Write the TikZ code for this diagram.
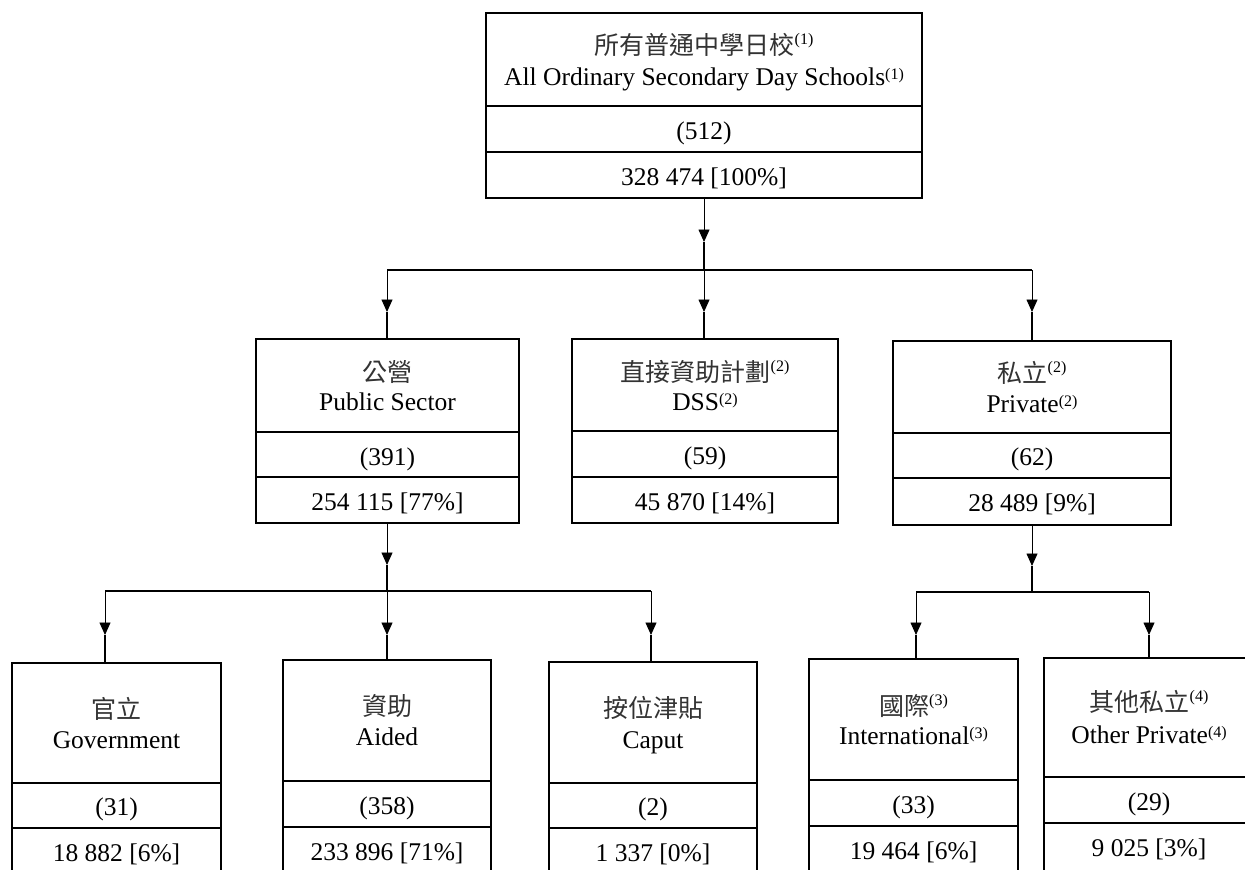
\documentclass[tikz,border=0pt]{standalone}
\usepackage{fontspec}
\setmainfont{Liberation Serif}
\newfontfamily\cjk{Noto Sans CJK TC}
\usetikzlibrary{arrows.meta}
\newcommand\supe[1]{\raisebox{5.5pt}{\fontsize{16}{16}\selectfont(#1)}}
\newcommand\supz[1]{\raisebox{10pt}{\rmfamily\color{black}\fontsize{16}{16}\selectfont(#1)}}
\newcommand\mkcell[5]{\node[cellbox, minimum width={#4pt-#2pt}, minimum height={#5pt-#3pt}] (#1) at ({(#2+#4)/2},{(#3+#5)/2}) {};}
\tikzset{
  cellbox/.style={draw, rectangle, inner sep=0pt, outer sep=0pt, line width=1.1pt},
  entxt/.style={font=\fontsize{25.5}{30}\selectfont, inner sep=0pt, anchor=base},
  zhtxt/.style={font=\cjk\fontsize{25}{30}\selectfont, text=black!80, inner sep=0pt, anchor=base},
  thinln/.style={line width=0.9pt},
  thickln/.style={line width=2.4pt},
  arr/.style={thinln, -{Triangle[length=12.5pt,width=11pt]}},
}
\begin{document}
\begin{tikzpicture}[x=1pt,y=-1pt]
\useasboundingbox (0,0) rectangle (1245,870);
\clip (0,0) rectangle (1245,870);
\fill[white] (0,0) rectangle (1245,870);

% ---------- top box
\mkcell{t1}{486}{13}{922}{106}
\mkcell{t2}{486}{106}{922}{152}
\mkcell{t3}{486}{152}{922}{198}
\node[zhtxt] (tzh) at (704,54) {所有普通中學日校\supz{1}};
\node[entxt] (ten) at (704,85) {All Ordinary Secondary Day Schools\supe{1}};
\node[entxt] (tnum) at (704,139) {(512)};
\node[entxt] (tstu) at (704,185) {328 474 [100\%]};

% ---------- public sector
\mkcell{p1}{256}{339}{519}{432}
\mkcell{p2}{256}{432}{519}{477}
\mkcell{p3}{256}{477}{519}{523}
\node[zhtxt] (pzh) at (387.5,381) {公營};
\node[entxt] (pen) at (387.5,410) {Public Sector};
\node[entxt] (pnum) at (387.5,465) {(391)};
\node[entxt] (pstu) at (387.5,510) {254 115 [77\%]};

% ---------- DSS
\mkcell{d1}{572}{339}{838}{431}
\mkcell{d2}{572}{431}{838}{477}
\mkcell{d3}{572}{477}{838}{523}
\node[zhtxt] (dzh) at (705,381) {直接資助計劃\supz{2}};
\node[entxt] (den) at (705,410) {DSS\supe{2}};
\node[entxt] (dnum) at (705,464) {(59)};
\node[entxt] (dstu) at (705,510) {45 870 [14\%]};

% ---------- private
\mkcell{r1}{893}{341}{1171}{433}
\mkcell{r2}{893}{433}{1171}{478}
\mkcell{r3}{893}{478}{1171}{525}
\node[zhtxt] (rzh) at (1032,382.5) {私立\supz{2}};
\node[entxt] (ren) at (1032,412) {Private\supe{2}};
\node[entxt] (rnum) at (1032,465.5) {(62)};
\node[entxt] (rstu) at (1032,511.5) {28 489 [9\%]};

% ---------- government
\mkcell{g1}{12}{663}{221}{783}
\mkcell{g2}{12}{783}{221}{828}
\mkcell{g3}{12}{828}{221}{890}
\node[zhtxt] (gzh) at (116.5,718) {官立};
\node[entxt] (gen) at (116.5,748) {Government};
\node[entxt] (gnum) at (116.5,815.5) {(31)};
\node[entxt] (gstu) at (116.5,861) {18 882 [6\%]};

% ---------- aided
\mkcell{a1}{283}{660}{491}{781}
\mkcell{a2}{283}{781}{491}{827}
\mkcell{a3}{283}{827}{491}{890}
\node[zhtxt] (azh) at (387,715) {資助};
\node[entxt] (aen) at (387,745) {Aided};
\node[entxt] (anum) at (387,814) {(358)};
\node[entxt] (astu) at (387,860) {233 896 [71\%]};

% ---------- caput
\mkcell{c1}{549}{662}{757}{783}
\mkcell{c2}{549}{783}{757}{828}
\mkcell{c3}{549}{828}{757}{890}
\node[zhtxt] (czh) at (653,717) {按位津貼};
\node[entxt] (cen) at (653,748) {Caput};
\node[entxt] (cnum) at (653,815.5) {(2)};
\node[entxt] (cstu) at (653,861) {1 337 [0\%]};

% ---------- international
\mkcell{i1}{809}{659}{1018}{780}
\mkcell{i2}{809}{780}{1018}{826}
\mkcell{i3}{809}{826}{1018}{890}
\node[zhtxt] (izh) at (913.5,715) {國際\supz{3}};
\node[entxt] (ien) at (913.5,744) {International\supe{3}};
\node[entxt] (inum) at (913.5,813) {(33)};
\node[entxt] (istu) at (913.5,859) {19 464 [6\%]};

% ---------- other private
\mkcell{o1}{1044}{658}{1254}{777}
\mkcell{o2}{1044}{777}{1254}{823}
\mkcell{o3}{1044}{823}{1254}{890}
\node[zhtxt] (ozh) at (1149,711.5) {其他私立\supz{4}};
\node[entxt] (oen) at (1149,743) {Other Private\supe{4}};
\node[entxt] (onum) at (1149,810) {(29)};
\node[entxt] (ostu) at (1149,856) {9 025 [3\%]};

% ---------- connectors level 1
\coordinate (k0a) at (704,242);
\coordinate (k0b) at (704,270);
\coordinate (k0l) at (387,270);
\coordinate (k0r) at (1032,270);
\coordinate (k1a) at (387,312);
\coordinate (k2a) at (704,312);
\coordinate (k3a) at (1032,312);
\draw[arr] (t3.south -| k0a) -- (k0a);
\draw[thickln] (k0a) -- (k0b);
\draw[thickln] (k0l) -- (k0r);
\draw[arr] (k0l) -- (k1a);
\draw[thickln] (k1a) -- (k1a |- p1.north);
\draw[arr] (k0b) -- (k2a);
\draw[thickln] (k2a) -- (k2a |- d1.north);
\draw[arr] (k0r) -- (k3a);
\draw[thickln] (k3a) -- (k3a |- r1.north);

% ---------- connectors public
\coordinate (m0a) at (387,565);
\coordinate (m0b) at (387,591);
\coordinate (m0l) at (105,591);
\coordinate (m0r) at (651,591);
\coordinate (m1a) at (105,635);
\coordinate (m2a) at (387,635);
\coordinate (m3a) at (651,635);
\draw[arr] (p3.south -| m0a) -- (m0a);
\draw[thickln] (m0a) -- (m0b);
\draw[thickln] (m0l) -- (m0r);
\draw[arr] (m0l) -- (m1a);
\draw[thickln] (m1a) -- (m1a |- g1.north);
\draw[arr] (m0b) -- (m2a);
\draw[thickln] (m2a) -- (m2a |- a1.north);
\draw[arr] (m0r) -- (m3a);
\draw[thickln] (m3a) -- (m3a |- c1.north);

% ---------- connectors private
\coordinate (n0a) at (1032,566);
\coordinate (n0b) at (1032,592);
\coordinate (n0l) at (916,592);
\coordinate (n0r) at (1149,592);
\coordinate (n1a) at (916,635);
\coordinate (n2a) at (1149,635);
\draw[arr] (r3.south -| n0a) -- (n0a);
\draw[thickln] (n0a) -- (n0b);
\draw[thickln] (n0l) -- (n0r);
\draw[arr] (n0l) -- (n1a);
\draw[thickln] (n1a) -- (n1a |- i1.north);
\draw[arr] (n0r) -- (n2a);
\draw[thickln] (n2a) -- (n2a |- o1.north);
\end{tikzpicture}
\end{document}
